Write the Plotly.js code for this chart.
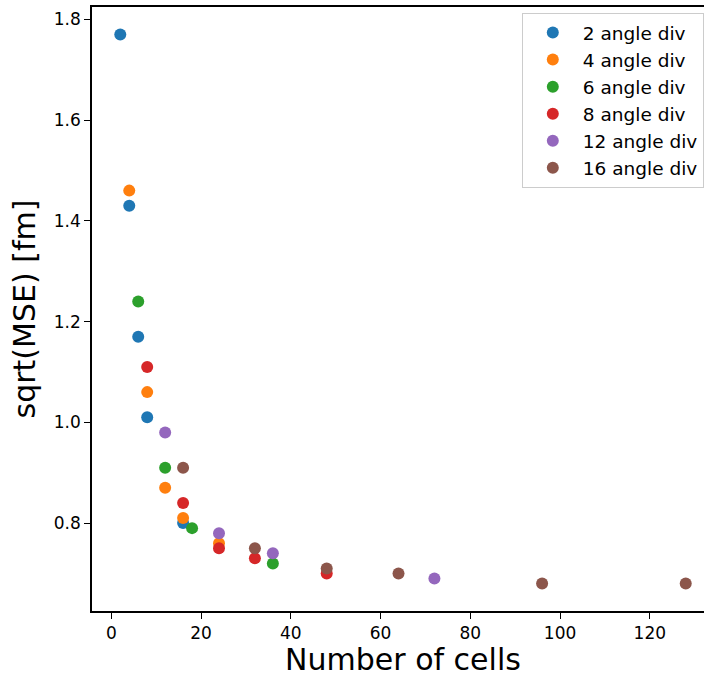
<!DOCTYPE html>
<html>
<head>
<meta charset="utf-8">
<script src="https://cdn.plot.ly/plotly-3.0.1.min.js"></script>
<style>
html, body { margin: 0; padding: 0; overflow: hidden; background: #fff; }
#chart { width: 720px; height: 677px; }
</style>
</head>
<body>
<div id="chart"></div>
<script>
// Data
const seriesNames = ["2 angle div", "4 angle div", "6 angle div", "8 angle div", "12 angle div", "16 angle div"];
const seriesColors = ["#1f77b4", "#ff7f0e", "#2ca02c", "#d62728", "#9467bd", "#8c564b"];

const cells2 = [2, 4, 6, 8, 16];
const rmse2 = [1.77, 1.43, 1.17, 1.01, 0.80];

const cells4 = [4, 8, 12, 16, 24];
const rmse4 = [1.46, 1.06, 0.87, 0.81, 0.76];

const cells6 = [6, 12, 18, 36];
const rmse6 = [1.24, 0.91, 0.79, 0.72];

const cells8 = [8, 16, 24, 32, 48];
const rmse8 = [1.11, 0.84, 0.75, 0.73, 0.70];

const cells12 = [12, 24, 36, 72];
const rmse12 = [0.98, 0.78, 0.74, 0.69];

const cells16 = [16, 32, 48, 64, 96, 128];
const rmse16 = [0.91, 0.75, 0.71, 0.70, 0.68, 0.68];

const xs = [cells2, cells4, cells6, cells8, cells12, cells16];
const ys = [rmse2, rmse4, rmse6, rmse8, rmse12, rmse16];

const FONT = "DejaVu Sans, sans-serif";

const traces = seriesNames.map((name, i) => ({
  type: "scatter",
  mode: "markers",
  name: name,
  x: xs[i],
  y: ys[i],
  marker: { color: seriesColors[i], size: 12, line: { width: 0 } },
  hoverinfo: "x+y+name"
}));

const layout = {
  width: 720,
  height: 677,
  margin: { l: 92, r: 6, t: 7, b: 66, pad: 0 },
  paper_bgcolor: "#ffffff",
  plot_bgcolor: "#ffffff",
  font: { family: FONT, color: "#000000", size: 17 },
  showlegend: true,
  legend: {
    x: 0.691, y: 0.99, xanchor: "left", yanchor: "top",
    bgcolor: "rgba(255,255,255,0.9)",
    bordercolor: "#cccccc", borderwidth: 1,
    font: { family: FONT, size: 18.5, color: "#000000" },
    itemwidth: 50,
    tracegroupgap: 0
  },
  xaxis: {
    range: [-4.3, 134.3],
    tickvals: [0, 20, 40, 60, 80, 100, 120],
    ticks: "outside", ticklen: 6, tickwidth: 1.3, tickcolor: "#000",
    showline: true, linecolor: "#000", linewidth: 1.5, mirror: true,
    showgrid: false, zeroline: false,
    tickfont: { family: FONT, size: 17, color: "#000" },
    title: { text: "Number of cells", font: { family: FONT, size: 30, color: "#000" }, standoff: 3 }
  },
  yaxis: {
    range: [0.6255, 1.8245],
    tickvals: [0.8, 1.0, 1.2, 1.4, 1.6, 1.8],
    tickformat: ".1f",
    ticks: "outside", ticklen: 6, tickwidth: 1.3, tickcolor: "#000",
    showline: true, linecolor: "#000", linewidth: 1.5, mirror: true,
    showgrid: false, zeroline: false,
    tickfont: { family: FONT, size: 17, color: "#000" },
    title: { text: "sqrt(MSE) [fm]", font: { family: FONT, size: 30, color: "#000" }, standoff: 9 }
  }
};

Plotly.newPlot("chart", traces, layout, { displayModeBar: false, staticPlot: false });
</script>
</body>
</html>
